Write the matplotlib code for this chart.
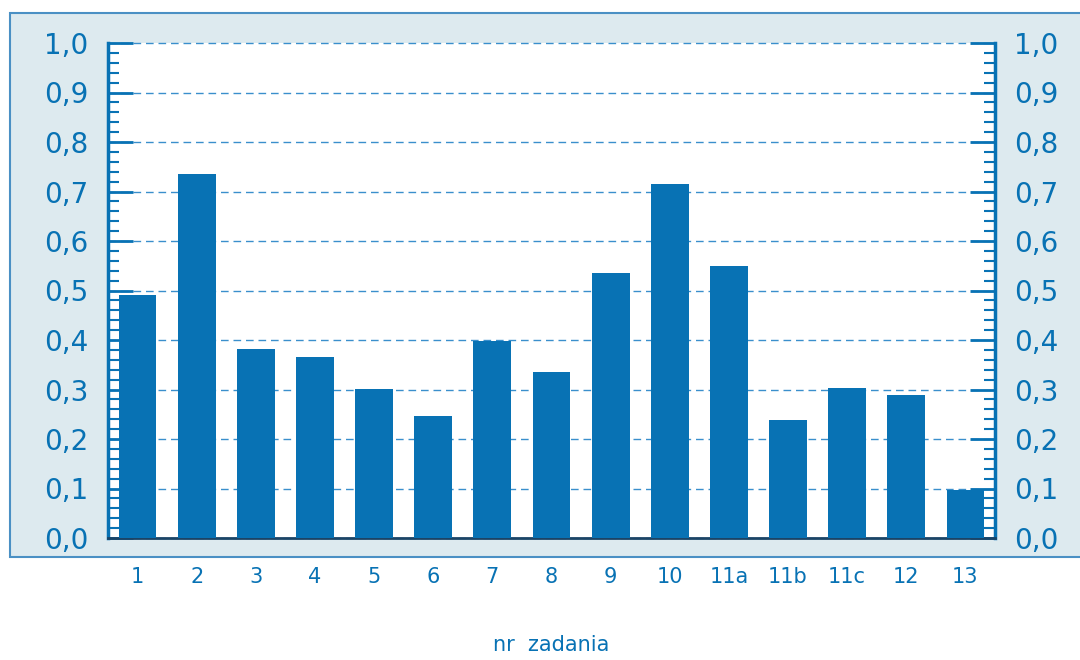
import matplotlib
matplotlib.use("Agg")
import matplotlib.pyplot as plt
from matplotlib.patches import Rectangle
from matplotlib.ticker import MultipleLocator

categories = ["1", "2", "3", "4", "5", "6", "7", "8", "9", "10", "11a", "11b", "11c", "12", "13"]
values = [0.49, 0.735, 0.382, 0.366, 0.301, 0.246, 0.398, 0.335, 0.535, 0.715, 0.549, 0.238, 0.303, 0.289, 0.097]
ytick_vals = [0.0, 0.1, 0.2, 0.3, 0.4, 0.5, 0.6, 0.7, 0.8, 0.9, 1.0]
ytick_labels = ["0,0", "0,1", "0,2", "0,3", "0,4", "0,5", "0,6", "0,7", "0,8", "0,9", "1,0"]
xlabel = "nr  zadania"

blue = "#0872b4"
W, H = 1080, 660
fig = plt.figure(figsize=(W / 100, H / 100), dpi=100)

panel = Rectangle((10 / W, (H - 557) / H), 1.2, (557 - 13) / H, transform=fig.transFigure,
                  facecolor="#ddeaef", edgecolor="#4a90c4", linewidth=1.5, zorder=-10)
fig.patches.append(panel)

ax = fig.add_axes([108 / W, (H - 538) / H, (995 - 108) / W, (538 - 43) / H])
ax.set_zorder(5)
ax.set_facecolor("white")
x = list(range(len(categories)))
ax.bar(x, values, width=0.64, color=blue, zorder=3)
ax.set_xlim(-0.5, len(categories) - 0.5)
ax.set_ylim(0, 1.0)

ax.set_yticks(ytick_vals)
ax.set_yticklabels(ytick_labels)
ax.yaxis.set_minor_locator(MultipleLocator(0.02))
ax.set_xticks(x)
ax.set_xticklabels(categories)

ax.tick_params(axis="y", which="major", direction="in", length=18, width=2, color=blue,
               labelsize=20, labelcolor=blue, left=True, right=True, labelleft=True, labelright=True, pad=14)
ax.tick_params(axis="y", which="minor", direction="in", length=8, width=1.5, color=blue,
               left=True, right=True)
ax.tick_params(axis="x", which="both", length=0, labelsize=15, labelcolor=blue, pad=21)

for sp in ["left", "right"]:
    ax.spines[sp].set_color(blue)
    ax.spines[sp].set_linewidth(2.5)
ax.spines["top"].set_visible(False)
ax.spines["bottom"].set_color("#1b4466")
ax.spines["bottom"].set_linewidth(2)

ax.grid(axis="y", which="major", linestyle=(0, (5.5, 3.5)), color="#3a8fcc", linewidth=1, zorder=1)
for gl in ax.get_ygridlines():
    gl.set_clip_on(False)
ax.set_axisbelow(True)

fig.text((108 + 995) / 2 / W, (H - 645) / H, xlabel, ha="center", va="center", fontsize=15, color=blue)

fig.savefig("out.png", dpi=100)
